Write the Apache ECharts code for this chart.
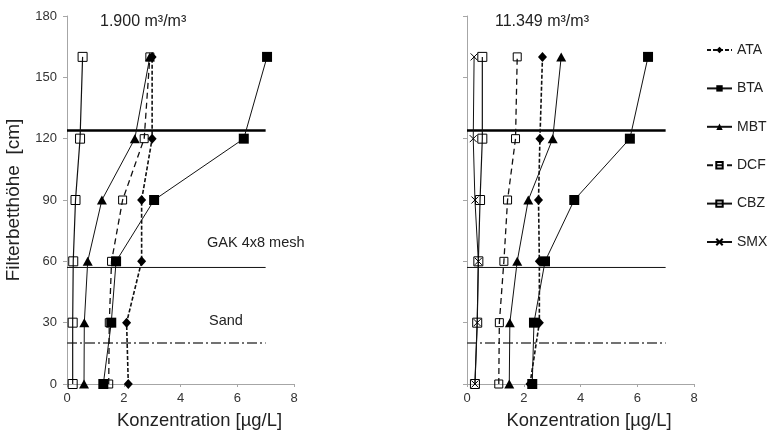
<!DOCTYPE html>
<html>
<head>
<meta charset="utf-8">
<script src="https://cdn.jsdelivr.net/npm/echarts@6/dist/echarts.min.js"></script>
<style>
  html, body { margin: 0; padding: 0; background: #fff; }
  #chart { width: 770px; height: 433px; }
</style>
</head>
<body>
<div id="chart"></div>
<script>
// Filter bed heights (cm) at which samples were taken
const heights = [0, 30, 60, 90, 120, 160];

// Concentrations (µg/L), throughput 1.900 m³/m³
const ata1 = [2.16, 2.10, 2.63, 2.63, 3.00, 3.00];
const bta1 = [1.28, 1.56, 1.73, 3.07, 6.23, 7.05];
const mbt1 = [0.60, 0.61, 0.73, 1.23, 2.39, 2.92];
const dcf1 = [1.47, 1.49, 1.57, 1.96, 2.72, 2.92];
const cbz1 = [0.20, 0.20, 0.22, 0.30, 0.46, 0.55];

// Concentrations (µg/L), throughput 11.349 m³/m³
const ata2 = [2.22, 2.55, 2.55, 2.52, 2.57, 2.66];
const bta2 = [2.30, 2.36, 2.75, 3.78, 5.74, 6.38];
const mbt2 = [1.49, 1.51, 1.77, 2.16, 3.02, 3.32];
const dcf2 = [1.12, 1.14, 1.30, 1.43, 1.71, 1.77];
const cbz2 = [0.28, 0.36, 0.40, 0.46, 0.54, 0.54];
const smx2 = [0.28, 0.36, 0.40, 0.28, 0.22, 0.25];

// Layer boundaries in the filter (cm) and the x range they span
const bedTop = 124;
const gakSandBoundary = 57;
const sandBottom = 20;
const boundarySpan = [0, 7];

const xTicks = { min: 0, max: 8, interval: 2 };
const yTicks = { min: 0, max: 180, interval: 30 };

const panelTitles = ['1.900 m³/m³', '11.349 m³/m³'];
const layerLabels = ['GAK 4x8 mesh', 'Sand'];

const FONT = 'Liberation Sans, Arial, sans-serif';
const AXIS_GRAY = '#a6a6a6';

const pairs = (xs) => xs.map((x, i) => [x, heights[i]]);

const X_MARK = 'path://M0,0L10,10M10,0L0,10';

const styles = {
  ATA: { symbol: 'diamond', symbolSize: [9, 10], fill: '#000', line: { width: 1.6, type: [4, 2] } },
  BTA: { symbol: 'rect', symbolSize: 10, fill: '#000', line: { width: 1, type: 'solid' } },
  MBT: { symbol: 'triangle', symbolSize: [10, 9], fill: '#000', line: { width: 1, type: 'solid' } },
  DCF: { symbol: 'rect', symbolSize: 8, fill: 'rgba(255,255,255,0)', line: { width: 1.3, type: [6, 4] } },
  CBZ: { symbol: 'rect', symbolSize: 9, fill: 'rgba(255,255,255,0)', line: { width: 1.2, type: 'solid' } },
  SMX: { symbol: X_MARK, symbolSize: 7, fill: 'rgba(255,255,255,0)', line: { width: 1, type: 'solid' } }
};

function dataSeries(name, values, panel) {
  const s = styles[name];
  const open = s.fill !== '#000';
  return {
    name: name,
    type: 'line',
    xAxisIndex: panel,
    yAxisIndex: panel,
    data: pairs(values),
    symbol: s.symbol,
    symbolSize: s.symbolSize,
    showAllSymbol: true,
    z: 3,
    lineStyle: { color: '#111', width: s.line.width, type: s.line.type },
    itemStyle: { color: s.fill, borderColor: '#000', borderWidth: open ? 1 : 0 },
    emphasis: { disabled: true },
    animation: false
  };
}

function boundarySeries(y, panel, width, type, color) {
  return {
    name: 'boundary',
    type: 'line',
    xAxisIndex: panel,
    yAxisIndex: panel,
    data: boundarySpan.map(x => [x, y]),
    symbol: 'none',
    z: 2,
    lineStyle: { color: color, width: width, type: type },
    emphasis: { disabled: true },
    silent: true,
    animation: false
  };
}

// Fixed plot rectangles; outer bounds handling off so they keep their size
const grids = [
  { left: 67, top: 16, width: 227, height: 368, containLabel: false, outerBoundsMode: 'none' },
  { left: 467, top: 16, width: 227, height: 368, containLabel: false, outerBoundsMode: 'none' }
];

function xAxis(panel, pad) {
  return {
    type: 'value', gridIndex: panel,
    min: xTicks.min, max: xTicks.max, interval: xTicks.interval,
    name: 'Konzentration [µg/L]',
    nameLocation: 'middle', nameGap: 28,
    nameTextStyle: { fontFamily: FONT, fontSize: 18.4, color: '#222', padding: [0, 0, 0, pad] },
    axisLine: { show: true, lineStyle: { color: AXIS_GRAY, width: 1 } },
    axisTick: { show: true, length: 3, lineStyle: { color: AXIS_GRAY } },
    axisLabel: { fontFamily: FONT, fontSize: 13, color: '#333', margin: 8 },
    splitLine: { show: false }
  };
}

function yAxis(panel, withLabels) {
  return {
    type: 'value', gridIndex: panel,
    min: yTicks.min, max: yTicks.max, interval: yTicks.interval,
    name: withLabels ? 'Filterbetthöhe  [cm]' : '',
    nameLocation: 'middle', nameGap: 44,
    nameTextStyle: { fontFamily: FONT, fontSize: 19, color: '#222' },
    axisLine: { show: true, lineStyle: { color: AXIS_GRAY, width: 1 } },
    axisTick: { show: true, length: 4, lineStyle: { color: AXIS_GRAY } },
    axisLabel: { show: withLabels, fontFamily: FONT, fontSize: 13, color: '#333', margin: 10 },
    splitLine: { show: false }
  };
}

const series = [
  boundarySeries(bedTop, 0, 2.5, 'solid', '#000'),
  boundarySeries(gakSandBoundary, 0, 1, 'solid', '#111'),
  boundarySeries(sandBottom, 0, 1.5, [10, 3, 2, 3], '#444'),
  boundarySeries(bedTop, 1, 2.5, 'solid', '#000'),
  boundarySeries(gakSandBoundary, 1, 1, 'solid', '#111'),
  boundarySeries(sandBottom, 1, 1.5, [10, 3, 2, 3], '#444'),
  dataSeries('ATA', ata1, 0),
  dataSeries('BTA', bta1, 0),
  dataSeries('MBT', mbt1, 0),
  dataSeries('DCF', dcf1, 0),
  dataSeries('CBZ', cbz1, 0),
  dataSeries('ATA', ata2, 1),
  dataSeries('BTA', bta2, 1),
  dataSeries('MBT', mbt2, 1),
  dataSeries('DCF', dcf2, 1),
  dataSeries('CBZ', cbz2, 1),
  dataSeries('SMX', smx2, 1)
];

const textEl = (text, x, y, size) => ({
  type: 'text', x: x, y: y, silent: true,
  style: { text: text, fontFamily: FONT, fontSize: size, fill: '#222', verticalAlign: 'middle', align: 'left' }
});

const chart = echarts.init(document.getElementById('chart'), null, { renderer: 'canvas' });
chart.setOption({
  backgroundColor: '#fff',
  animation: false,
  grid: grids,
  xAxis: [xAxis(0, 38), xAxis(1, 17)],
  yAxis: [yAxis(0, true), yAxis(1, false)],
  legend: {
    data: ['ATA', 'BTA', 'MBT', 'DCF', 'CBZ', 'SMX'],
    orient: 'vertical',
    left: 701, top: 38,
    itemWidth: 25, itemHeight: 8, itemGap: 24.4,
    textStyle: { fontFamily: FONT, fontSize: 14, color: '#222' },
    selectedMode: false
  },
  graphic: [
    textEl(panelTitles[0], 100, 22, 16),
    textEl(panelTitles[1], 495, 22, 16),
    textEl(layerLabels[0], 207, 243, 14.5),
    textEl(layerLabels[1], 209, 321, 14.5)
  ],
  series: series
});
</script>
</body>
</html>
